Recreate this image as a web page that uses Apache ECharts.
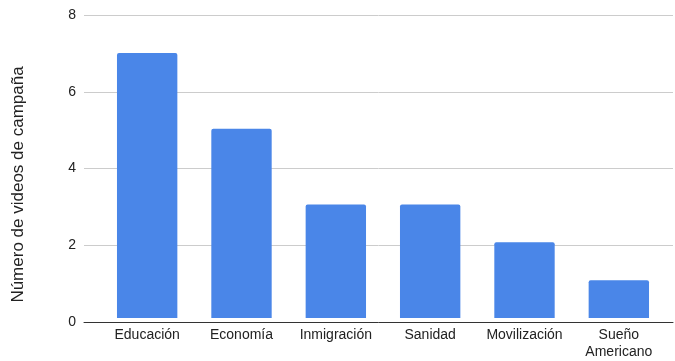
<!DOCTYPE html>
<html><head><meta charset="utf-8">
<script src="https://cdn.jsdelivr.net/npm/echarts@6/dist/echarts.min.js"></script>
<style>html,body{margin:0;padding:0;background:#fff}#c{width:675px;height:361px}</style>
</head><body><div id="c"></div>
<script>
const categories = ['Educación', 'Economía', 'Inmigración', 'Sanidad', 'Movilización', 'Sueño\nAmericano'];
const values = [7, 5, 3, 3, 2, 1];
const yTicks = [0, 2, 4, 6, 8];
const yTitle = 'Número de videos de campaña';

const chart = echarts.init(document.getElementById('c'));
const font = '"Liberation Sans", Arial, sans-serif';
chart.setOption({
  animation: false,
  grid: [
    {left: 84, right: 2, top: 15, bottom: 39},
    {left: 100, right: 9, top: 15, bottom: 39}
  ],
  xAxis: [
    {gridIndex: 0, type: 'value', min: 0, max: 1, show: true,
     axisLine: {show: true, onZero: false, lineStyle: {color: '#333', width: 1}},
     axisTick: {show: false}, axisLabel: {show: false}, splitLine: {show: false}},
    {gridIndex: 1, type: 'category', data: categories,
     axisLine: {show: false}, axisTick: {show: false},
     axisLabel: {color: '#222', fontSize: 14, fontFamily: font, margin: 9, lineHeight: 17, interval: 0}}
  ],
  yAxis: [
    {gridIndex: 0, type: 'value', min: yTicks[0], max: yTicks[yTicks.length-1], interval: 2,
     name: yTitle, nameLocation: 'middle', nameGap: 57,
     nameTextStyle: {color: '#222', fontSize: 17, fontFamily: font, padding: [0, 32, 0, 0]},
     axisLine: {show: false}, axisTick: {show: false},
     axisLabel: {color: '#222', fontSize: 14, fontFamily: font, margin: 8},
     splitLine: {lineStyle: {color: '#ccc', width: 1}}},
    {gridIndex: 1, type: 'value', min: yTicks[0], max: yTicks[yTicks.length-1], interval: 2, show: false}
  ],
  series: [{
    type: 'bar', xAxisIndex: 1, yAxisIndex: 1, data: values,
    barCategoryGap: '36%',
    itemStyle: {color: '#4a86e8', borderRadius: [2, 2, 0, 0]}
  }]
});
</script></body></html>
